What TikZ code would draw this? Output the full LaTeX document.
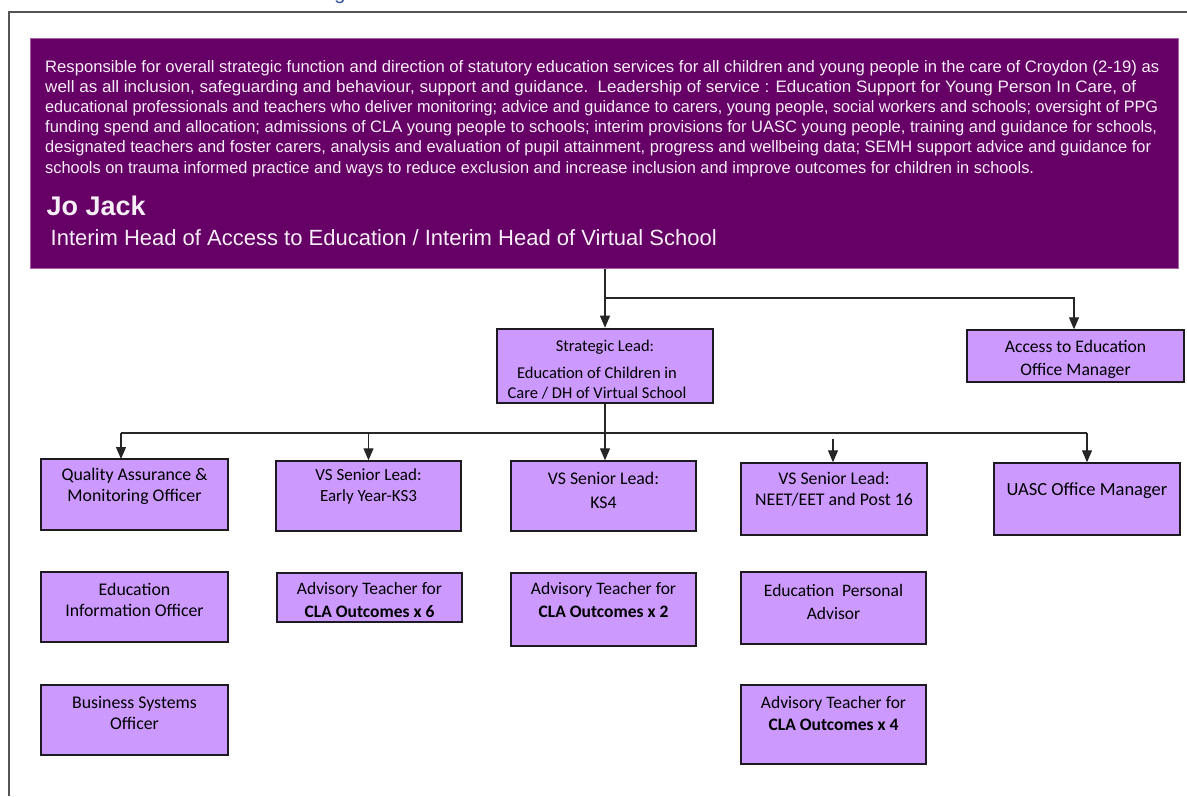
\documentclass[tikz,border=0pt]{standalone}
\usepackage{fontspec}
\usepackage{graphicx}
\setmainfont{Liberation Sans}
\newfontfamily\calib{Carlito}
\usetikzlibrary{arrows.meta,calc}
\definecolor{bannercol}{HTML}{660066}
\definecolor{banneredge}{HTML}{A860A8}
\definecolor{boxfill}{HTML}{CC99FF}
\definecolor{boxedge}{HTML}{1E1A22}
\definecolor{headblue}{HTML}{2F5597}
\definecolor{framecol}{HTML}{555555}
\definecolor{btext}{HTML}{F6EEF6}
\newcommand{\fitline}[2]{\resizebox{#1pt}{\height}{#2}}
\begin{document}
\begin{tikzpicture}[x=1pt,y=-1pt,
  btxt/.style={anchor=base west,inner sep=0,text=btext,font=\fontsize{16.6}{19}\selectfont},
  pbox/.style={draw=boxedge,fill=boxfill,line width=1.4pt,inner sep=0,rectangle},
  ptxt/.style={align=center,inner sep=0,font=\calib\fontsize{17.8}{21}\selectfont},
  conn/.style={draw=black!85,line width=1.2pt},
  arr/.style={conn,-{Triangle[width=10pt,length=12pt]}}
]
\useasboundingbox (0,0) rectangle (1187,796);
% cut-off heading fragment
\node[anchor=base,inner sep=0,text=headblue,font=\fontsize{20}{24}\selectfont] (head) at (340,-0.5) {g};
% frame
\draw[framecol,line width=1.2pt] (9,796) -- (9,12) -- (1187,12);
% banner
\node[fill=bannercol,draw=banneredge,line width=0.8pt,inner sep=0,minimum width=1148,minimum height=230,anchor=north west] (banner) at (30,38) {};
\node[btxt] (b1) at (45,72) {\fitline{1114}{Responsible for overall strategic function and direction of statutory education services for all children and young people in the care of Croydon (2-19) as}};
\node[btxt] (b2) at (45,92.2) {\fitline{1091}{well as all inclusion, safeguarding and behaviour, support and guidance.\ \ Leadership of service : Education Support for Young Person In Care, of}};
\node[btxt] (b3) at (45,112.4) {\fitline{1113}{educational professionals and teachers who deliver monitoring; advice and guidance to carers, young people, social workers and schools; oversight of PPG}};
\node[btxt] (b4) at (45,132.6) {\fitline{1112}{funding spend and allocation; admissions of CLA young people to schools; interim provisions for UASC young people, training and guidance for schools,}};
\node[btxt] (b5) at (45,152.8) {\fitline{1106}{designated teachers and foster carers, analysis and evaluation of pupil attainment, progress and wellbeing data; SEMH support advice and guidance for}};
\node[btxt] (b6) at (45,173) {\fitline{989}{schools on trauma informed practice and ways to reduce exclusion and increase inclusion and improve outcomes for children in schools.}};
\node[btxt,font=\bfseries\fontsize{27}{30}\selectfont] (name) at (46.5,215.5) {Jo Jack};
\node[btxt,font=\fontsize{22}{25}\selectfont] (role) at (50.5,245) {Interim Head of Access to Education / Interim Head of Virtual School};
% second level
\node[pbox,line width=2.6pt,minimum width=216,minimum height=74] (strat) at (605,366) {};
\node[ptxt,font=\calib\fontsize{16.5}{20}\selectfont] (stratA) at (605,347) {Strategic Lead:};
\node[ptxt,font=\calib\fontsize{16.5}{20}\selectfont] (stratB) at (597,383) {Education of Children in\\Care / DH of Virtual School};
\node[pbox,minimum width=217,minimum height=52] (access) at (1075.5,356) {};
\node[ptxt,font=\calib\fontsize{17.6}{23}\selectfont] (accessT) at (1075.5,359.5) {Access to Education\\Office Manager};
% third level
\node[pbox,minimum width=187,minimum height=71] (qa) at (134.5,494.5) {};
\node[ptxt] (qaT) at (134.5,486.5) {Quality Assurance \&\\Monitoring Officer};
\node[pbox,minimum width=185,minimum height=70] (vsa) at (368.5,496) {};
\node[ptxt,font=\calib\fontsize{17}{21}\selectfont] (vsaT) at (368.5,486.5) {VS Senior Lead:\\Early Year-KS3};
\node[pbox,minimum width=185,minimum height=70] (ks4) at (603.5,496) {};
\node[ptxt,font=\calib\fontsize{17.8}{24}\selectfont] (ks4T) at (603.5,490) {VS Senior Lead:\\KS4};
\node[pbox,minimum width=186,minimum height=72] (neet) at (834,499) {};
\node[ptxt] (neetT) at (834,489.5) {VS Senior Lead:\\NEET/EET and Post 16};
\node[pbox,minimum width=186,minimum height=72] (uasc) at (1087,499) {};
\node[ptxt,font=\calib\fontsize{18.5}{21}\selectfont] (uascT) at (1087,491) {UASC Office Manager};
% fourth level
\node[pbox,minimum width=187,minimum height=70] (eio) at (134.5,607) {};
\node[ptxt] (eioT) at (134.5,600) {Education\\Information Officer};
\node[pbox,minimum width=185,minimum height=49] (adv6) at (369.5,597.5) {};
\node[ptxt,font=\calib\fontsize{17.5}{23}\selectfont] (adv6T) at (369.5,599.5) {Advisory Teacher for\\\textbf{CLA Outcomes x 6}};
\node[pbox,minimum width=185,minimum height=73] (adv2) at (603.5,609.5) {};
\node[ptxt,font=\calib\fontsize{17.5}{23}\selectfont] (adv2T) at (603.5,599.5) {Advisory Teacher for\\\textbf{CLA Outcomes x 2}};
\node[pbox,minimum width=185,minimum height=72] (epa) at (833.5,608) {};
\node[ptxt,font=\calib\fontsize{17.5}{23}\selectfont] (epaT) at (833.5,601.5) {Education\ \ Personal\\Advisor};
% fifth level
\node[pbox,minimum width=187,minimum height=70] (bso) at (134.5,720) {};
\node[ptxt] (bsoT) at (134.5,712.5) {Business Systems\\Officer};
\node[pbox,minimum width=185,minimum height=79] (adv4) at (833.5,724.5) {};
\node[ptxt,font=\calib\fontsize{17.5}{22}\selectfont] (adv4T) at (833.5,713) {Advisory Teacher for\\\textbf{CLA Outcomes x 4}};
% connectors
\coordinate (j1) at (605,298);
\coordinate (j2) at (605,433);
\coordinate (qain) at (121,459);
\coordinate (neettop) at (833,439);
\draw[conn] (strat.north |- banner.south) -- (j1);
\draw[arr] (j1) -- (strat.north);
\draw[arr] (j1) -| (access.north -| 1074,0);
\draw[conn] (strat.south) -- (j2);
\draw[conn] (j2) -- (qain |- j2);
\draw[conn] (j2) -- (uasc.north |- j2);
\draw[arr] (qain |- j2) -- (qain);
\draw[arr] (vsa.north |- j2) -- (vsa.north);
\draw[arr] (j2) -- (ks4.north -| j2);
\draw[arr] (uasc.north |- j2) -- (uasc.north);
\draw[arr] (neettop) -- (neet.north -| neettop);
\end{tikzpicture}
\end{document}
